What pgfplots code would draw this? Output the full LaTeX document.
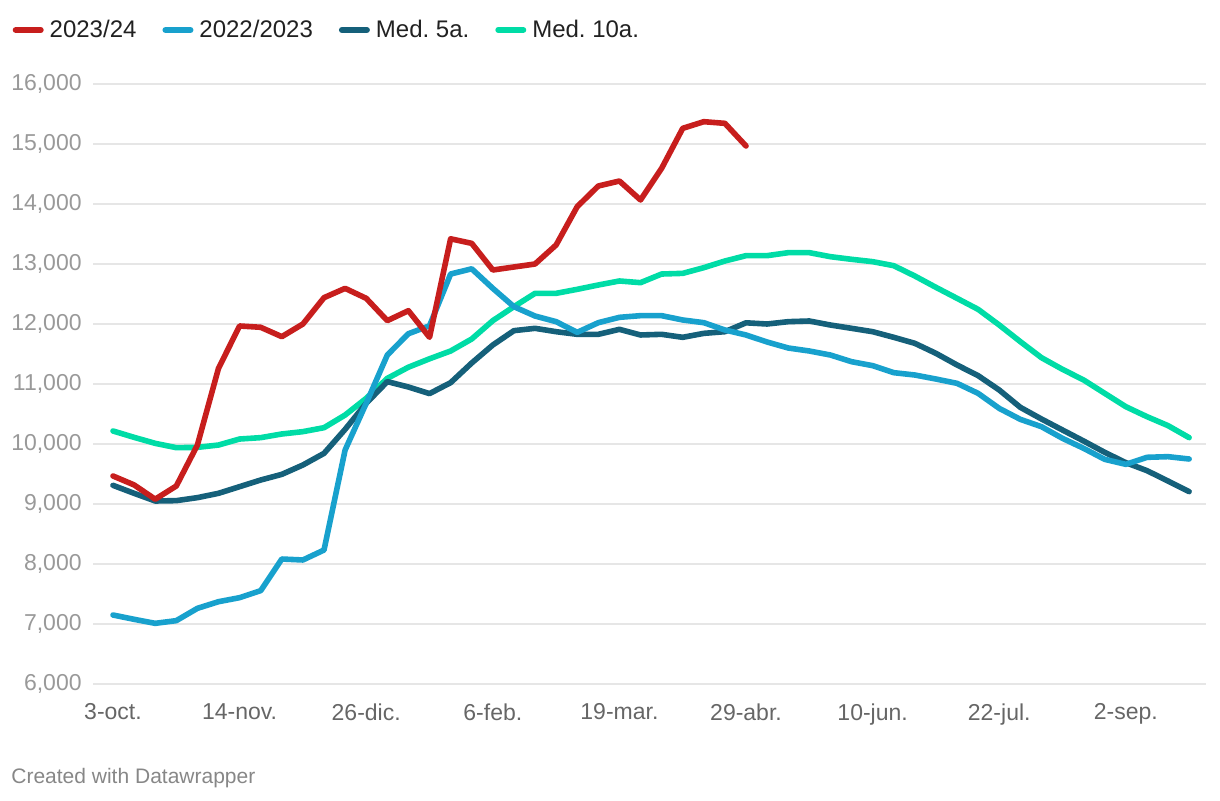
\documentclass[border=0pt]{standalone}
\usepackage{pgfplots}
\pgfplotsset{compat=1.18}
\usepackage{fontspec}
\setmainfont{Liberation Sans}
\frenchspacing
\definecolor{cRed}{HTML}{C71E1D}
\definecolor{cLight}{HTML}{18A1CD}
\definecolor{cDark}{HTML}{15607A}
\definecolor{cGreen}{HTML}{00DCA6}
\definecolor{gridc}{HTML}{E6E6E6}
\definecolor{ylab}{HTML}{999999}
\definecolor{xlab}{HTML}{666666}
\begin{document}
\begin{tikzpicture}
\path[use as bounding box] (0,0) rectangle (610pt,400pt);
\begin{axis}[
  at={(46.5pt,58pt)}, anchor=south west,
  scale only axis, width=556.5pt, height=300pt,
  xmin=-0.948, xmax=51.8, ymin=6000, ymax=16000,
  axis line style={draw=none},
  major tick length=0pt,
  xtick={0,6,12,18,24,30,36,42,48},
  xticklabels={3-oct.,14-nov.,26-dic.,6-feb.,19-mar.,29-abr.,10-jun.,22-jul.,2-sep.},
  ytick={6000,7000,8000,9000,10000,11000,12000,13000,14000,15000,16000},
  ymajorgrids, grid style={gridc, line width=1.1pt},
  /pgf/number format/.cd, 1000 sep={,}, assume math mode=true, /pgfplots/.cd,
  scaled y ticks=false,
  yticklabel style={font=\fontsize{11.5pt}{13pt}\selectfont, text=ylab, anchor=east, inner sep=0pt, xshift=-5.5pt},
  xticklabel style={font=\fontsize{11.5pt}{13pt}\selectfont, text=xlab, anchor=north, inner sep=0pt, yshift=-9.5pt},
  clip=false,
  legend columns=4,
  legend style={draw=none, fill=none, at={(-0.0725,1.09)}, anchor=west, inner sep=0pt,
    font=\fontsize{12pt}{14pt}\selectfont, text=black!87,
    /tikz/every even column/.append style={column sep=13pt},
    nodes={inner sep=0pt, anchor=west}},
  legend image code/.code={\draw[#1, line width=3pt, line cap=round] (0pt,0pt) -- (12.5pt,0pt);},
  every axis plot/.append style={line width=2.8pt, line join=round, line cap=round},
]
\addlegendimage{cRed}\addlegendentry{\hspace{3pt}2023/24}
\addlegendimage{cLight}\addlegendentry{\hspace{3pt}2022/2023}
\addlegendimage{cDark}\addlegendentry{\hspace{3pt}Med. 5a.}
\addlegendimage{cGreen}\addlegendentry{\hspace{3pt}Med. 10a.}

\addplot[cGreen, forget plot] coordinates {
(0,10217)(1,10111)(2,10011)(3,9939)(4,9944)(5,9983)(6,10083)(7,10106)(8,10167)(9,10206)
(10,10272)(11,10483)(12,10761)(13,11094)(14,11280)(15,11420)(16,11550)(17,11750)(18,12056)(19,12289)
(20,12511)(21,12511)(22,12578)(23,12650)(24,12717)(25,12689)(26,12833)(27,12844)(28,12939)(29,13050)
(30,13139)(31,13139)(32,13189)(33,13189)(34,13122)(35,13078)(36,13039)(37,12972)(38,12800)(39,12611)
(40,12428)(41,12244)(42,11983)(43,11706)(44,11439)(45,11244)(46,11067)(47,10844)(48,10622)(49,10456)
(50,10306)(51,10106)};
\addplot[cDark, forget plot] coordinates {
(0,9311)(1,9178)(2,9050)(3,9056)(4,9106)(5,9178)(6,9289)(7,9400)(8,9494)(9,9650)
(10,9844)(11,10244)(12,10678)(13,11040)(14,10950)(15,10840)(16,11022)(17,11350)(18,11650)(19,11889)
(20,11928)(21,11872)(22,11828)(23,11828)(24,11911)(25,11817)(26,11828)(27,11778)(28,11844)(29,11872)
(30,12020)(31,12000)(32,12039)(33,12050)(34,11983)(35,11928)(36,11872)(37,11778)(38,11678)(39,11511)
(40,11317)(41,11139)(42,10900)(43,10611)(44,10417)(45,10233)(46,10050)(47,9861)(48,9689)(49,9556)
(50,9383)(51,9206)};
\addplot[cLight, forget plot] coordinates {
(0,7150)(1,7078)(2,7011)(3,7056)(4,7261)(5,7372)(6,7439)(7,7556)(8,8083)(9,8067)
(10,8233)(11,9900)(12,10678)(13,11483)(14,11838)(15,11970)(16,12833)(17,12920)(18,12594)(19,12289)
(20,12133)(21,12039)(22,11861)(23,12022)(24,12111)(25,12139)(26,12139)(27,12067)(28,12022)(29,11900)
(30,11817)(31,11700)(32,11600)(33,11550)(34,11483)(35,11372)(36,11306)(37,11189)(38,11150)(39,11083)
(40,11011)(41,10844)(42,10594)(43,10411)(44,10289)(45,10094)(46,9928)(47,9744)(48,9661)(49,9778)
(50,9789)(51,9750)};
\addplot[cRed, forget plot] coordinates {
(0,9467)(1,9318)(2,9080)(3,9300)(4,9983)(5,11262)(6,11967)(7,11945)(8,11789)(9,12000)
(10,12439)(11,12594)(12,12428)(13,12056)(14,12222)(15,11778)(16,13420)(17,13344)(18,12900)(19,12950)
(20,13000)(21,13317)(22,13956)(23,14300)(24,14383)(25,14067)(26,14594)(27,15261)(28,15372)(29,15344)
(30,14967)};
\end{axis}
\node[anchor=base west, inner sep=0pt, text=black!47, font=\fontsize{10.5pt}{12pt}\selectfont] at (5.5pt,8.5pt) {Created with Datawrapper};
\end{tikzpicture}
\end{document}
